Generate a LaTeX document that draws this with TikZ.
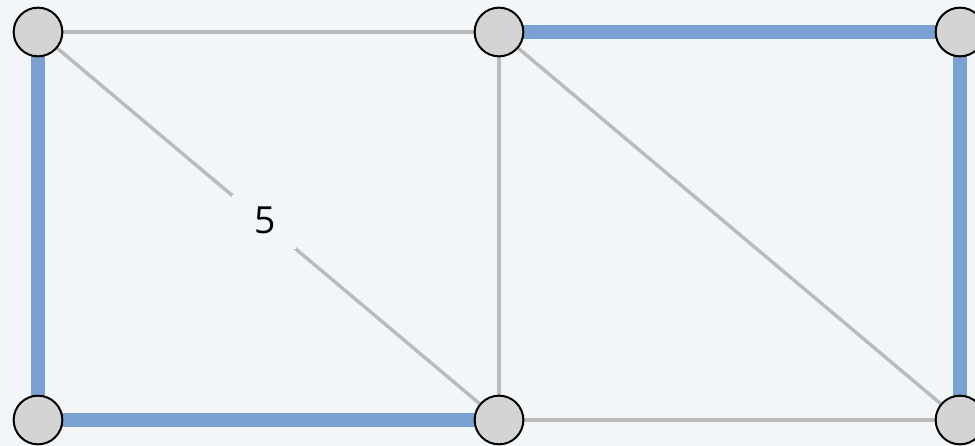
\documentclass[tikz,border=0pt]{standalone}
\usepackage{fontspec}
\setmainfont{Open Sans}
\pgfdeclarelayer{bglayer}
\pgfdeclarelayer{edgelayer}
\pgfsetlayers{bglayer,edgelayer,main}
\definecolor{bgcol}{HTML}{F3F6F9}
\definecolor{nodefill}{HTML}{D4D4D4}
\definecolor{bluecol}{HTML}{7BA0D2}
\definecolor{graycol}{HTML}{BBBBBB}
\tikzset{
  vert/.style={circle, draw=black, line width=1.5pt, fill=nodefill, minimum size=36.5pt, inner sep=0pt},
  grayedge/.style={draw=graycol, line width=2.6pt},
  blueedge/.style={draw=bluecol, line width=10pt},
  wlabel/.style={fill=bgcol, minimum width=48pt, minimum height=40pt, inner sep=0pt, font=\fontsize{28}{34}\selectfont}
}
\begin{document}
\begin{tikzpicture}[x=0.75pt, y=-0.75pt]
\begin{pgfonlayer}{bglayer}
\fill[bgcol] (0,0) rectangle (975,446);
\end{pgfonlayer}
\useasboundingbox (0,0) rectangle (975,446);
\node[vert] (tl) at (38,32) {};
\node[vert] (tm) at (499,32) {};
\node[vert] (tr) at (960,32) {};
\node[vert] (bl) at (38,420) {};
\node[vert] (bm) at (499,420) {};
\node[vert] (br) at (960,420) {};
\begin{pgfonlayer}{edgelayer}
\draw[grayedge] (tl.center) -- (tm.center);
\draw[grayedge] (tm.center) -- (bm.center);
\draw[grayedge] (tm.center) -- (br.center);
\draw[grayedge] (bm.center) -- (br.center);
\draw[grayedge] (tl.center) -- node[wlabel, pos=0.49] (w) {\raisebox{3pt}{\hspace{1.5pt}5}} (bm.center);
\draw[blueedge] (tl.center) -- (bl.center);
\draw[blueedge] (bl.center) -- (bm.center);
\draw[blueedge] (tm.center) -- (tr.center);
\draw[blueedge] (tr.center) -- (br.center);
\end{pgfonlayer}
\end{tikzpicture}
\end{document}
